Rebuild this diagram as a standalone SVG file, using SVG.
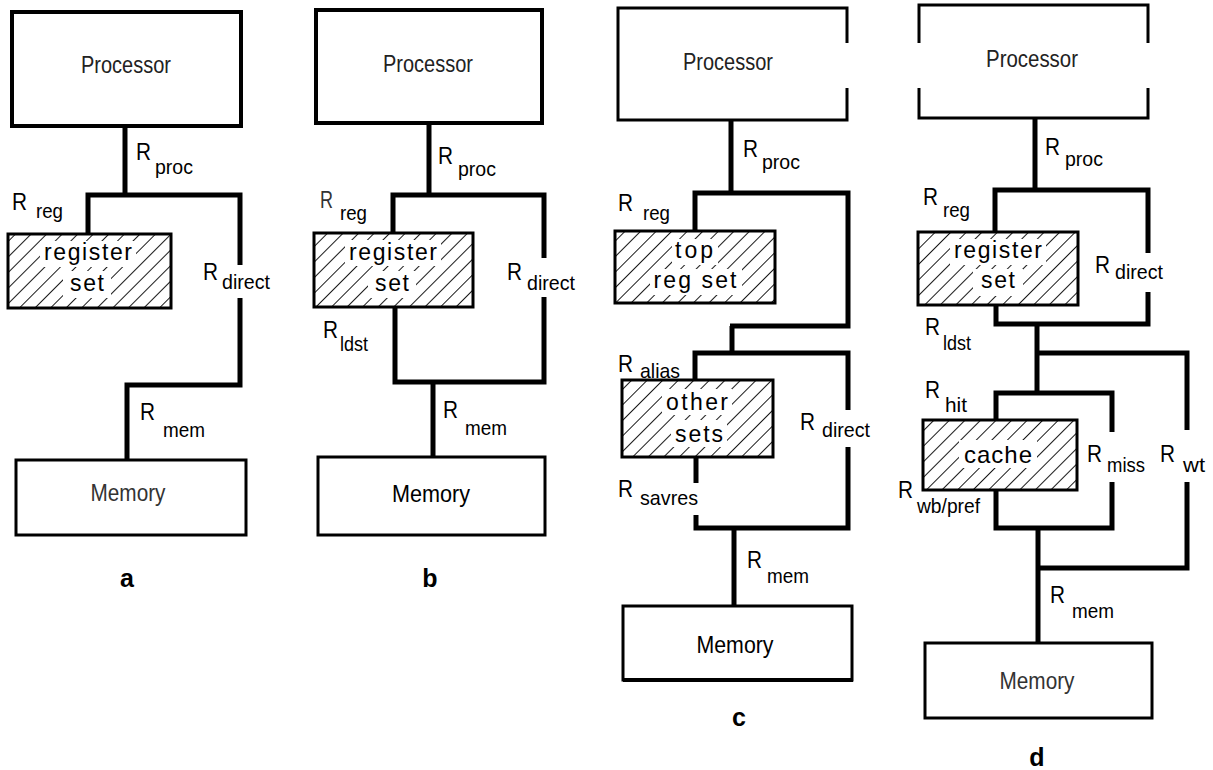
<svg xmlns="http://www.w3.org/2000/svg" width="1213" height="770" viewBox="0 0 1213 770">
<style>
.box{fill:#fff;stroke:#000;stroke-width:3}
.pbox{fill:#fff;stroke:#000;stroke-width:4}
.open{fill:none;stroke:#000;stroke-width:3}
.wire{fill:none;stroke:#000;stroke-width:5;stroke-linejoin:miter}
.t{font-family:"Liberation Sans",Arial,sans-serif;fill:#000}
.big{font-size:23px;fill:#222;text-anchor:middle}
.R{font-size:24px}
.sub{font-size:21px}
.in{font-size:23px;text-anchor:middle}
.lab{font-size:25px;font-weight:bold;text-anchor:middle}
.wb{fill:#fff}
.hat{fill:url(#hatch)}
.ol{fill:none;stroke:#000;stroke-width:3}
</style>
<defs>
<pattern id="hatch" patternUnits="userSpaceOnUse" width="11" height="11" patternTransform="rotate(45)">
<line x1="0" y1="0" x2="0" y2="11" stroke="#000" stroke-width="1.8"/>
</pattern>
</defs>

<!-- Panel a -->
<g id="a-processor"><rect class="pbox" x="12" y="12" width="229" height="114"/><text class="t big" x="126" y="73" textLength="90" lengthAdjust="spacingAndGlyphs">Processor</text></g>
<g id="a-regset"><rect class="wb" x="8" y="234" width="163" height="74"/><rect class="hat" x="8" y="234" width="163" height="74"/><rect class="wb" x="40" y="241" width="96" height="26"/><rect class="wb" x="63" y="271" width="48" height="27"/><text class="t in" x="88" y="260" textLength="88" lengthAdjust="spacing">register</text><text class="t in" x="87" y="291" textLength="34" lengthAdjust="spacing">set</text><rect class="ol" x="8" y="234" width="163" height="74"/></g>
<g id="a-memory"><rect class="box" x="16" y="460" width="230" height="75"/><text class="t big" x="128" y="501" style="fill:#333" textLength="75" lengthAdjust="spacingAndGlyphs">Memory</text></g>
<g id="a-label"><text class="t lab" x="127" y="587">a</text></g>

<!-- Panel b -->
<g id="b-processor"><rect class="pbox" x="316" y="10" width="226" height="113"/><text class="t big" x="428" y="72" textLength="90" lengthAdjust="spacingAndGlyphs">Processor</text></g>
<g id="b-regset"><rect class="wb" x="314" y="233" width="159" height="74"/><rect class="hat" x="314" y="233" width="159" height="74"/><rect class="wb" x="345" y="240" width="96" height="26"/><rect class="wb" x="368" y="271" width="48" height="27"/><text class="t in" x="393" y="260" textLength="88" lengthAdjust="spacing">register</text><text class="t in" x="392" y="291" textLength="34" lengthAdjust="spacing">set</text><rect class="ol" x="314" y="233" width="159" height="74"/></g>
<g id="b-memory"><rect class="box" x="318" y="457" width="227" height="78"/><text class="t big" x="431" y="502" style="fill:#000" textLength="78" lengthAdjust="spacingAndGlyphs">Memory</text></g>
<g id="b-label"><text class="t lab" x="430" y="587">b</text></g>

<!-- Panel c -->
<g id="c-processor"><path class="open" d="M847,43 V8 H618 V120 H847 V88" style="fill:#fff"/><text class="t big" x="728" y="70" textLength="90" lengthAdjust="spacingAndGlyphs">Processor</text></g>
<g id="c-topreg"><rect class="wb" x="615" y="231" width="160" height="72"/><rect class="hat" x="615" y="231" width="160" height="72"/><rect class="wb" x="672" y="239" width="46" height="26"/><rect class="wb" x="650" y="269" width="92" height="26"/><text class="t in" x="694" y="258" textLength="38" lengthAdjust="spacing">top</text><text class="t in" x="695" y="288" textLength="83" lengthAdjust="spacing">reg  set</text><rect class="ol" x="615" y="231" width="160" height="72"/></g>
<g id="c-othersets"><rect class="wb" x="622" y="380" width="151" height="77"/><rect class="hat" x="622" y="380" width="151" height="77"/><rect class="wb" x="662" y="389" width="70" height="26"/><rect class="wb" x="671" y="420" width="56" height="27"/><text class="t in" x="697" y="410" textLength="62" lengthAdjust="spacing">other</text><text class="t in" x="699" y="442" textLength="48" lengthAdjust="spacing">sets</text><rect class="ol" x="622" y="380" width="151" height="77"/></g>
<g id="c-memory"><rect class="box" x="623" y="606" width="229" height="74"/><line x1="623" y1="680" x2="853" y2="680" stroke="#000" stroke-width="4"/><text class="t big" x="735" y="653" style="fill:#000" textLength="77" lengthAdjust="spacingAndGlyphs">Memory</text></g>
<g id="c-label"><text class="t lab" x="739" y="726">c</text></g>

<!-- Panel d -->
<g id="d-processor"><path class="open" d="M919,43 V5 H1148 V43 M919,88 V118 H1148 V88"/><text class="t big" x="1032" y="67" textLength="92" lengthAdjust="spacingAndGlyphs">Processor</text></g>
<g id="d-regset"><rect class="wb" x="918" y="232" width="160" height="73"/><rect class="hat" x="918" y="232" width="160" height="73"/><rect class="wb" x="950" y="239" width="96" height="26"/><rect class="wb" x="973" y="269" width="50" height="27"/><text class="t in" x="998" y="258" textLength="88" lengthAdjust="spacing">register</text><text class="t in" x="998" y="288" textLength="34" lengthAdjust="spacing">set</text><rect class="ol" x="918" y="232" width="160" height="73"/></g>
<g id="d-cache"><rect class="wb" x="923" y="420" width="154" height="70"/><rect class="hat" x="923" y="420" width="154" height="70"/><rect class="wb" x="959" y="440" width="78" height="28"/><text class="t in" x="998" y="463" style="font-size:24px" textLength="68" lengthAdjust="spacing">cache</text><rect class="ol" x="923" y="420" width="154" height="70"/></g>
<g id="d-memory"><rect class="box" x="925" y="643" width="227" height="75"/><text class="t big" x="1037" y="689" style="fill:#333" textLength="75" lengthAdjust="spacingAndGlyphs">Memory</text></g>
<g id="d-label"><text class="t lab" x="1037" y="766">d</text></g>

<!-- Connectors -->
<g id="connectors">
<path class="wire" d="M125,126 V195"/>
<path class="wire" d="M88,234 V195 H240 V265"/>
<path class="wire" d="M240,298 V385 H127 V460"/>

<path class="wire" d="M429,123 V195"/>
<path class="wire" d="M393,233 V195 H544 V258"/>
<path class="wire" d="M395,307 V382 H544 V297"/>
<path class="wire" d="M433,382 V457"/>

<path class="wire" d="M731,120 V193"/>
<path class="wire" d="M695,231 V193 H848 V326 H730"/>
<path class="wire" d="M732,326 V353"/>
<path class="wire" d="M695,380 V353 H848 V410"/>
<path class="wire" d="M848,447 V528 H696 V515"/>
<path class="wire" d="M696,457 V483"/>
<path class="wire" d="M734,528 V606"/>

<path class="wire" d="M1035,118 V190"/>
<path class="wire" d="M995,232 V190 H1148 V253"/>
<path class="wire" d="M1148,292 V324 H996 V305"/>
<path class="wire" d="M1037,324 V393"/>
<path class="wire" d="M1037,353 H1187 V430"/>
<path class="wire" d="M1187,482 V568 H1038"/>
<path class="wire" d="M996,420 V393 H1112 V432"/>
<path class="wire" d="M1112,482 V528 H996 V490"/>
<path class="wire" d="M1038,528 V643"/>
</g>

<!-- Connector labels -->
<g id="labels">
<text class="t R" x="136" y="160" textLength="15" lengthAdjust="spacingAndGlyphs">R</text><text class="t sub" x="155" y="174" textLength="38" lengthAdjust="spacingAndGlyphs">proc</text>
<text class="t R" x="12" y="210" textLength="15" lengthAdjust="spacingAndGlyphs">R</text><text class="t sub" x="36" y="218" textLength="27" lengthAdjust="spacingAndGlyphs">reg</text>
<text class="t R" x="203" y="280" textLength="15" lengthAdjust="spacingAndGlyphs">R</text><text class="t sub" x="222" y="289" textLength="48" lengthAdjust="spacingAndGlyphs">direct</text>
<text class="t R" x="140" y="420" textLength="15" lengthAdjust="spacingAndGlyphs">R</text><text class="t sub" x="163" y="437" textLength="42" lengthAdjust="spacingAndGlyphs">mem</text>

<text class="t R" x="438" y="164" textLength="15" lengthAdjust="spacingAndGlyphs">R</text><text class="t sub" x="458" y="176" textLength="38" lengthAdjust="spacingAndGlyphs">proc</text>
<text class="t R" x="320" y="208" style="fill:#333" textLength="13" lengthAdjust="spacingAndGlyphs">R</text><text class="t sub" x="340" y="220" textLength="27" lengthAdjust="spacingAndGlyphs">reg</text>
<text class="t R" x="507" y="280" textLength="15" lengthAdjust="spacingAndGlyphs">R</text><text class="t sub" x="527" y="290" textLength="48" lengthAdjust="spacingAndGlyphs">direct</text>
<text class="t R" x="323" y="338" textLength="15" lengthAdjust="spacingAndGlyphs">R</text><text class="t sub" x="340" y="351" textLength="28" lengthAdjust="spacingAndGlyphs">ldst</text>
<text class="t R" x="443" y="418" textLength="15" lengthAdjust="spacingAndGlyphs">R</text><text class="t sub" x="465" y="435" textLength="42" lengthAdjust="spacingAndGlyphs">mem</text>

<text class="t R" x="743" y="157" textLength="15" lengthAdjust="spacingAndGlyphs">R</text><text class="t sub" x="762" y="169" textLength="38" lengthAdjust="spacingAndGlyphs">proc</text>
<text class="t R" x="618" y="211" textLength="15" lengthAdjust="spacingAndGlyphs">R</text><text class="t sub" x="643" y="220" textLength="27" lengthAdjust="spacingAndGlyphs">reg</text>
<text class="t R" x="618" y="372" textLength="15" lengthAdjust="spacingAndGlyphs">R</text><text class="t sub" x="640" y="378" textLength="40" lengthAdjust="spacingAndGlyphs">alias</text>
<text class="t R" x="800" y="430" textLength="15" lengthAdjust="spacingAndGlyphs">R</text><text class="t sub" x="822" y="437" textLength="48" lengthAdjust="spacingAndGlyphs">direct</text>
<text class="t R" x="618" y="497" textLength="15" lengthAdjust="spacingAndGlyphs">R</text><text class="t sub" x="640" y="505" textLength="58" lengthAdjust="spacingAndGlyphs">savres</text>
<text class="t R" x="747" y="568" textLength="15" lengthAdjust="spacingAndGlyphs">R</text><text class="t sub" x="767" y="583" textLength="42" lengthAdjust="spacingAndGlyphs">mem</text>

<text class="t R" x="1045" y="155" textLength="15" lengthAdjust="spacingAndGlyphs">R</text><text class="t sub" x="1065" y="166" textLength="38" lengthAdjust="spacingAndGlyphs">proc</text>
<text class="t R" x="923" y="205" textLength="15" lengthAdjust="spacingAndGlyphs">R</text><text class="t sub" x="943" y="217" textLength="27" lengthAdjust="spacingAndGlyphs">reg</text>
<text class="t R" x="1095" y="273" textLength="15" lengthAdjust="spacingAndGlyphs">R</text><text class="t sub" x="1115" y="279" textLength="48" lengthAdjust="spacingAndGlyphs">direct</text>
<text class="t R" x="925" y="335" textLength="15" lengthAdjust="spacingAndGlyphs">R</text><text class="t sub" x="943" y="350" textLength="28" lengthAdjust="spacingAndGlyphs">ldst</text>
<text class="t R" x="925" y="398" textLength="15" lengthAdjust="spacingAndGlyphs">R</text><text class="t sub" x="945" y="412" textLength="22" lengthAdjust="spacingAndGlyphs">hit</text>
<text class="t R" x="1087" y="462" textLength="15" lengthAdjust="spacingAndGlyphs">R</text><text class="t sub" x="1107" y="472" textLength="38" lengthAdjust="spacingAndGlyphs">miss</text>
<text class="t R" x="1160" y="462" textLength="15" lengthAdjust="spacingAndGlyphs">R</text><text class="t sub" x="1183" y="472" textLength="22" lengthAdjust="spacingAndGlyphs">wt</text>
<text class="t R" x="898" y="498" textLength="15" lengthAdjust="spacingAndGlyphs">R</text><text class="t sub" x="917" y="513" textLength="63" lengthAdjust="spacingAndGlyphs">wb/pref</text>
<text class="t R" x="1050" y="603" textLength="15" lengthAdjust="spacingAndGlyphs">R</text><text class="t sub" x="1072" y="618" textLength="42" lengthAdjust="spacingAndGlyphs">mem</text>
</g>
</svg>
